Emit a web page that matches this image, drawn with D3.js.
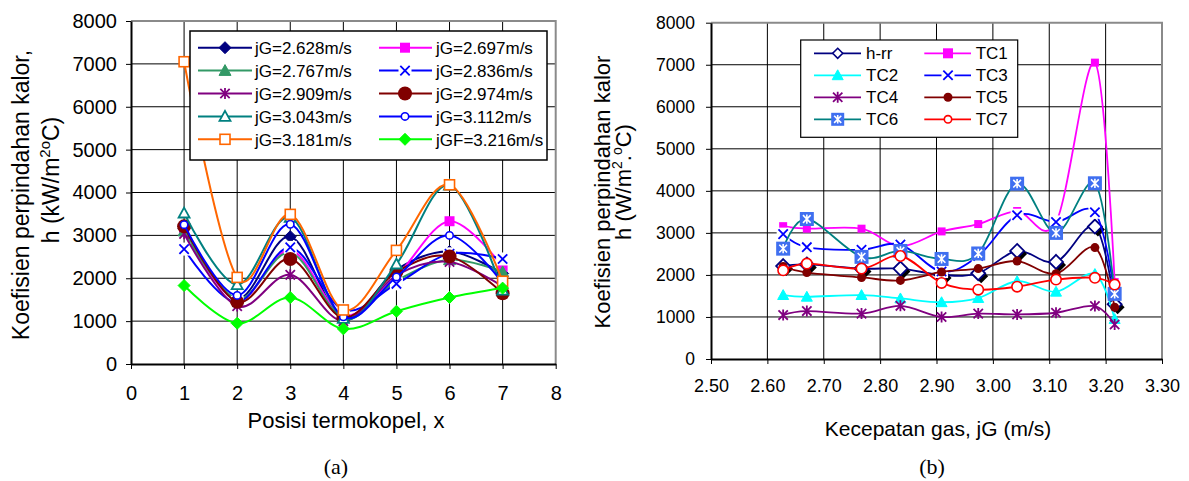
<!DOCTYPE html>
<html>
<head>
<meta charset="utf-8">
<script src="https://cdn.jsdelivr.net/npm/d3@7"></script>
<style>
  body { margin: 0; background: #fff; }
  svg { display: block; font-family: "Liberation Sans", Arial, sans-serif; }
</style>
</head>
<body>
<svg id="chart" width="1189" height="481"></svg>
<script>
// ---- data -------------------------------------------------------------
// thermocouple positions (x axis of panel a)
const positions = [1, 2, 3, 4, 5, 6, 7];
// gas velocity runs
const jgLabels = ["jG=2.628m/s", "jG=2.697m/s", "jG=2.767m/s", "jG=2.836m/s", "jG=2.909m/s",
                  "jG=2.974m/s", "jG=3.043m/s", "jG=3.112m/s", "jG=3.181m/s", "jGF=3.216m/s"];
const jgPlotted = [2.628, 2.67, 2.767, 2.836, 2.909, 2.974, 3.043, 3.112, 3.181, 3.216];
// heat transfer coefficient per run, TC1..TC7
const h2628 = [3160, 1520, 2970, 1045, 2200, 2625, 2110];
const h2697 = [3100, 1480, 2660, 1140, 2055, 3330, 2270];
const h2767 = [3100, 1520, 2600, 1080, 1940, 2430, 2150];
const h2836 = [2680, 1440, 2720, 1265, 1870, 2570, 2450];
const h2909 = [3035, 1350, 2080, 1000, 2070, 2380, 1810];
const h2974 = [3210, 1450, 2450, 1080, 2150, 2510, 1650];
const h3043 = [3520, 1850, 3420, 1060, 2330, 4170, 1720];
const h3112 = [3250, 1600, 3260, 1100, 2030, 3000, 1890];
const h3181 = [7050, 2020, 3490, 1260, 2650, 4180, 1930];
const h3216 = [1830, 950, 1550, 820, 1230, 1550, 1770];
// averaged coefficient per run
const hRR = [2210, 2250, 2150, 2150, 2000, 2040, 2570, 2310, 3150, 1300];
const tcLabels = ["TC1", "TC2", "TC3", "TC4", "TC5", "TC6", "TC7"];
const yTicks = [0, 1000, 2000, 3000, 4000, 5000, 6000, 7000, 8000];
const xTicksA = [0, 1, 2, 3, 4, 5, 6, 7, 8];
const xTicksB = [2.5, 2.6, 2.7, 2.8, 2.9, 3.0, 3.1, 3.2, 3.3];

const runs = [h2628, h2697, h2767, h2836, h2909, h2974, h3043, h3112, h3181, h3216];

// ---- styles -------------------------------------------------------------
const styleA = [
  { color: "#000080", kind: "diamond", size: 12 },
  { color: "#FF00FF", kind: "square", size: 10 },
  { color: "#339966", kind: "triangle", size: 12 },
  { color: "#0000FF", kind: "x", size: 11 },
  { color: "#800080", kind: "star", size: 11 },
  { color: "#800000", kind: "circle", size: 14 },
  { color: "#008080", kind: "triangleOpen", size: 11 },
  { color: "#0000FF", kind: "circleOpen", size: 9 },
  { color: "#FF6600", kind: "squareOpen", size: 10 },
  { color: "#00FF00", kind: "diamond", size: 12 }
];
const styleHRR = { color: "#000080", kind: "diamondShadow", size: 14, legendKind: "diamondOpen", legendSize: 10 };
const styleB = [
  { color: "#FF00FF", kind: "square", size: 8, legendSize: 10 },
  { color: "#00FFFF", kind: "triangle", size: 11, legendSize: 11 },
  { color: "#0000FF", kind: "x", size: 11, legendSize: 11 },
  { color: "#800080", kind: "star", size: 11, legendSize: 11 },
  { color: "#800000", kind: "circle", size: 9, legendSize: 9 },
  { color: "#008080", kind: "starSquare", size: 14, legendSize: 13 },
  { color: "#FF0000", kind: "circleOpen", size: 12, legendSize: 9 }
];

const svg = d3.select("#chart");
const smooth = d3.curveCardinal.tension(0);

function marker(g, kind, x, y, s, color) {
  const r = s / 2;
  const dia = (cx, cy) => `M${cx},${cy - r}L${cx + r},${cy}L${cx},${cy + r}L${cx - r},${cy}Z`;
  const tri = `M${x},${y - r}L${x + r},${y + r * 0.8}L${x - r},${y + r * 0.8}Z`;
  const xs = r * 0.85;
  const cross = `M${x - xs},${y - xs}L${x + xs},${y + xs}M${x - xs},${y + xs}L${x + xs},${y - xs}`;
  switch (kind) {
    case "diamond":
      g.append("path").attr("d", dia(x, y)).attr("fill", color).attr("stroke", color).attr("stroke-width", 1);
      break;
    case "diamondOpen":
      g.append("path").attr("d", dia(x, y)).attr("fill", "#fff").attr("stroke", color).attr("stroke-width", 1.6);
      break;
    case "diamondShadow":
      g.append("path").attr("d", dia(x + 3, y + 3)).attr("fill", "#000");
      g.append("path").attr("d", dia(x, y)).attr("fill", "#fff").attr("stroke", color).attr("stroke-width", 1.8);
      break;
    case "square":
      g.append("rect").attr("x", x - r).attr("y", y - r).attr("width", s).attr("height", s).attr("fill", color);
      break;
    case "squareOpen":
      g.append("rect").attr("x", x - r).attr("y", y - r).attr("width", s).attr("height", s)
        .attr("fill", "#fff").attr("stroke", color).attr("stroke-width", 1.6);
      break;
    case "triangle":
      g.append("path").attr("d", tri).attr("fill", color).attr("stroke", color);
      break;
    case "triangleOpen":
      g.append("path").attr("d", tri).attr("fill", "#fff").attr("stroke", color).attr("stroke-width", 1.8);
      break;
    case "x":
      g.append("rect").attr("x", x - r - 1).attr("y", y - r - 1).attr("width", s + 2).attr("height", s + 2).attr("fill", "#fff");
      g.append("path").attr("d", cross).attr("stroke", color).attr("stroke-width", 1.8).attr("fill", "none");
      break;
    case "star":
      g.append("path").attr("d", cross + `M${x},${y - r}L${x},${y + r}`)
        .attr("stroke", color).attr("stroke-width", 1.8).attr("fill", "none");
      break;
    case "circle":
      g.append("circle").attr("cx", x).attr("cy", y).attr("r", r).attr("fill", color);
      break;
    case "circleOpen":
      g.append("circle").attr("cx", x).attr("cy", y).attr("r", r - 0.8)
        .attr("fill", "#fff").attr("stroke", color).attr("stroke-width", 1.6);
      break;
    case "starSquare": {
      g.append("rect").attr("x", x - r).attr("y", y - r).attr("width", s).attr("height", s).attr("fill", "#3F6FF0");
      const a = r * 0.55;
      g.append("path").attr("d", `M${x - a},${y - a}L${x + a},${y + a}M${x - a},${y + a}L${x + a},${y - a}M${x},${y - a * 1.2}L${x},${y + a * 1.2}`)
        .attr("stroke", "#fff").attr("stroke-width", 1.6);
      break;
    }
  }
}

function frame(x, y, xTicks, fmtX, xPad, xFont, yPad, yFont) {
  const g = svg.append("g");
  const [x0, x1] = x.range();
  const [y0, y1] = y.range();
  // gridlines
  g.selectAll(".hg").data(yTicks.slice(1, -1)).join("line")
    .attr("x1", x0).attr("x2", x1).attr("y1", d => y(d)).attr("y2", d => y(d))
    .attr("stroke", "#000").attr("stroke-width", 1);
  g.selectAll(".vg").data(xTicks.slice(1, -1)).join("line")
    .attr("x1", d => x(d)).attr("x2", d => x(d)).attr("y1", y0).attr("y2", y1)
    .attr("stroke", "#000").attr("stroke-width", 1);
  // plot area border (top/right)
  g.append("path").attr("d", `M${x0},${y1}H${x1}V${y0}`).attr("fill", "none")
    .attr("stroke", "#8a8a8a").attr("stroke-width", 2);
  // axes
  const ax = g.append("g").attr("transform", `translate(0,${y0})`)
    .call(d3.axisBottom(x).tickValues(xTicks).tickFormat(fmtX).tickSize(5).tickSizeOuter(0).tickPadding(xPad));
  ax.selectAll("text").attr("font-size", xFont).attr("fill", "#000").attr("font-family", "Liberation Sans, Arial, sans-serif");
  ax.select(".domain").attr("stroke-width", 2);
  const ay = g.append("g").attr("transform", `translate(${x0},0)`)
    .call(d3.axisLeft(y).tickValues(yTicks).tickFormat(d3.format("d")).tickSize(5).tickSizeOuter(0).tickPadding(yPad));
  ay.selectAll("text").attr("font-size", yFont).attr("fill", "#000").attr("font-family", "Liberation Sans, Arial, sans-serif");
  ay.select(".domain").attr("stroke-width", 2);
  return g;
}

// ---- panel (a): h versus thermocouple position ------------------------------
const xA = d3.scaleLinear().domain([0, 8]).range([131, 555.7]);
const yA = d3.scaleLinear().domain([0, 8000]).range([364, 21]);
frame(xA, yA, xTicksA, d3.format("d"), 17, 20, 9, 20);

const plotA = svg.append("g");
runs.forEach((vals, i) => {
  const st = styleA[i];
  const pts = positions.map((p, k) => [xA(p), yA(vals[k])]);
  plotA.append("path").attr("d", d3.line().curve(smooth)(pts))
    .attr("fill", "none").attr("stroke", st.color).attr("stroke-width", 2);
  const mg = plotA.append("g");
  pts.forEach(([px, py]) => marker(mg, st.kind, px, py, st.size, st.color));
});

// legend (a)
const legA = svg.append("g");
legA.append("rect").attr("x", 190).attr("y", 31).attr("width", 357).attr("height", 129)
  .attr("fill", "#fff").attr("stroke", "#000").attr("stroke-width", 1.5);
jgLabels.forEach((lab, i) => {
  const col = i % 2, row = Math.floor(i / 2);
  const cy = 47.7 + row * 22.9;
  const lx0 = col ? 379 : 198, lx1 = col ? 432 : 252, mx = col ? 405 : 225, tx = col ? 436 : 255;
  const st = styleA[i];
  legA.append("line").attr("x1", lx0).attr("x2", lx1).attr("y1", cy).attr("y2", cy)
    .attr("stroke", st.color).attr("stroke-width", 2);
  marker(legA, st.kind, mx, cy, st.size, st.color);
  legA.append("text").attr("x", tx).attr("y", cy + 6.5).attr("font-size", 17).text(lab);
});

// axis titles (a)
svg.append("text").attr("x", 346).attr("y", 428).attr("text-anchor", "middle").attr("font-size", 22)
  .text("Posisi termokopel, x");
svg.append("text").attr("transform", "translate(28.5,195) rotate(-90)").attr("text-anchor", "middle")
  .attr("font-size", 23).text("Koefisien perpindahan kalor,");
{
  const t = svg.append("text").attr("transform", "translate(59,180) rotate(-90)").attr("text-anchor", "middle")
    .attr("font-size", 23);
  t.append("tspan").text("h (kW/m");
  t.append("tspan").attr("dy", -9).attr("font-size", 15).text("2o");
  t.append("tspan").attr("dy", 9).text("C)");
}
svg.append("text").attr("x", 336).attr("y", 474).attr("text-anchor", "middle")
  .attr("font-family", "Liberation Serif, Times New Roman, serif").attr("font-size", 22).text("(a)");

// ---- panel (b): h versus gas velocity -------------------------------------
const xB = d3.scaleLinear().domain([2.5, 3.3]).range([711, 1162]);
const yB = d3.scaleLinear().domain([0, 8000]).range([359, 22.7]);
frame(xB, yB, xTicksB, d3.format(".2f"), 15, 18, 11, 17.5);

const plotB = svg.append("g");
function seriesB(vals, st) {
  const pts = jgPlotted.map((v, k) => [xB(v), yB(vals[k])]);
  plotB.append("path").attr("d", d3.line().curve(smooth)(pts))
    .attr("fill", "none").attr("stroke", st.color).attr("stroke-width", 1.8);
  const mg = plotB.append("g");
  pts.forEach(([px, py]) => marker(mg, st.kind, px, py, st.size, st.kind === "starSquare" ? "#3F6FF0" : st.color));
}
seriesB(hRR, styleHRR);
tcLabels.forEach((lab, k) => seriesB(runs.map(r => r[k]), styleB[k]));

// legend (b)
const legB = svg.append("g");
legB.append("rect").attr("x", 800.7).attr("y", 40).attr("width", 217).attr("height", 97.3)
  .attr("fill", "#fff").attr("stroke", "#000").attr("stroke-width", 1.2);
const legItemsB = [{ lab: "h-rr", st: { color: styleHRR.color, kind: styleHRR.legendKind, legendSize: styleHRR.legendSize } }]
  .concat(tcLabels.map((lab, k) => ({ lab, st: styleB[k] })));
legItemsB.forEach((it, i) => {
  const col = i % 2, row = Math.floor(i / 2);
  const cy = 53.3 + row * 22;
  const lx0 = col ? 924.3 : 814, lx1 = col ? 971 : 861, mx = col ? 948 : 837.7, tx = col ? 975.7 : 866;
  legB.append("line").attr("x1", lx0).attr("x2", lx1).attr("y1", cy).attr("y2", cy)
    .attr("stroke", it.st.color).attr("stroke-width", 1.8);
  marker(legB, it.st.kind, mx, cy, it.st.legendSize, it.st.color);
  legB.append("text").attr("x", tx).attr("y", cy + 6).attr("font-size", 17).text(it.lab);
});

// axis titles (b)
svg.append("text").attr("x", 938).attr("y", 436).attr("text-anchor", "middle").attr("font-size", 21)
  .text("Kecepatan gas, jG (m/s)");
svg.append("text").attr("transform", "translate(609.5,192) rotate(-90)").attr("text-anchor", "middle")
  .attr("font-size", 22).text("Koefisien perpindahan kalor");
{
  const t = svg.append("text").attr("transform", "translate(630.5,182) rotate(-90)").attr("text-anchor", "middle")
    .attr("font-size", 22);
  t.append("tspan").text("h (W/m");
  t.append("tspan").attr("dy", -9).attr("font-size", 14).text("2");
  t.append("tspan").attr("dy", 9).text(".");
  t.append("tspan").attr("dy", -9).attr("font-size", 14).text("o");
  t.append("tspan").attr("dy", 9).text("C)");
}
svg.append("text").attr("x", 932).attr("y", 474).attr("text-anchor", "middle")
  .attr("font-family", "Liberation Serif, Times New Roman, serif").attr("font-size", 22).text("(b)");
</script>
</body>
</html>
